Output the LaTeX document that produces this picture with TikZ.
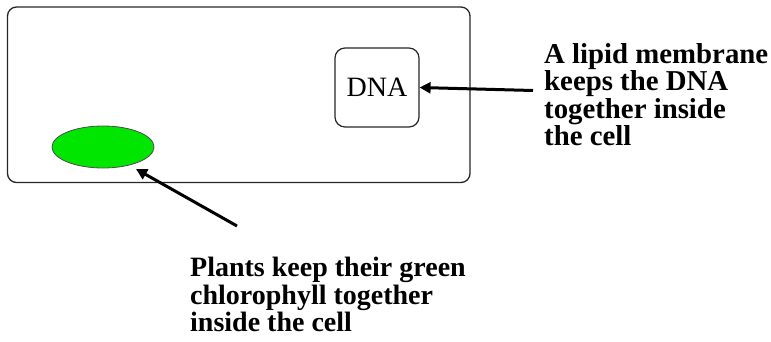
\documentclass[tikz,border=0pt]{standalone}
\usepackage{fontspec}
\setmainfont{Liberation Serif}
\usetikzlibrary{arrows.meta,shapes.geometric}
\definecolor{chlgreen}{RGB}{0,230,0}
\tikzset{
  cellbox/.style={draw=black!85, line width=1.3pt, rounded corners=9pt},
  dnabox/.style={draw=black!85, line width=1.2pt, rounded corners=10pt, minimum width=84pt, minimum height=79pt, inner sep=0pt, font=\fontsize{28}{28}\selectfont},
  chloro/.style={ellipse, draw=black!70, line width=0.8pt, fill=chlgreen, minimum width=102pt, minimum height=42pt, inner sep=0pt},
  label/.style={anchor=north west, inner sep=0pt, align=left, font=\fontsize{28}{27.6}\selectfont\bfseries},
  pointer/.style={line width=3pt, -{Triangle[length=11pt,width=11pt]}}
}
\begin{document}
\begin{tikzpicture}[x=1pt,y=-1pt]
\useasboundingbox (0,0) rectangle (771,342);
\draw[cellbox] (7.5,7) rectangle (470,182.5);
\node[dnabox] (dna) at (377,87.5) {DNA};
\node[chloro] (chl) at (103,147) {};
\node[label, font=\fontsize{28.8}{27.6}\selectfont\bfseries] (lipid) at (544,43) {A lipid membrane\\keeps the DNA\\together inside\\the cell};
\node[label] (plants) at (190,257) {Plants keep their green\\chlorophyll together\\inside the cell};
\coordinate (t1) at (533,90.5);
\coordinate (t2) at (237,226);
\draw[pointer] (t1) -- (dna.east);
\draw[pointer] (t2) -- (136,169);
\end{tikzpicture}
\end{document}
